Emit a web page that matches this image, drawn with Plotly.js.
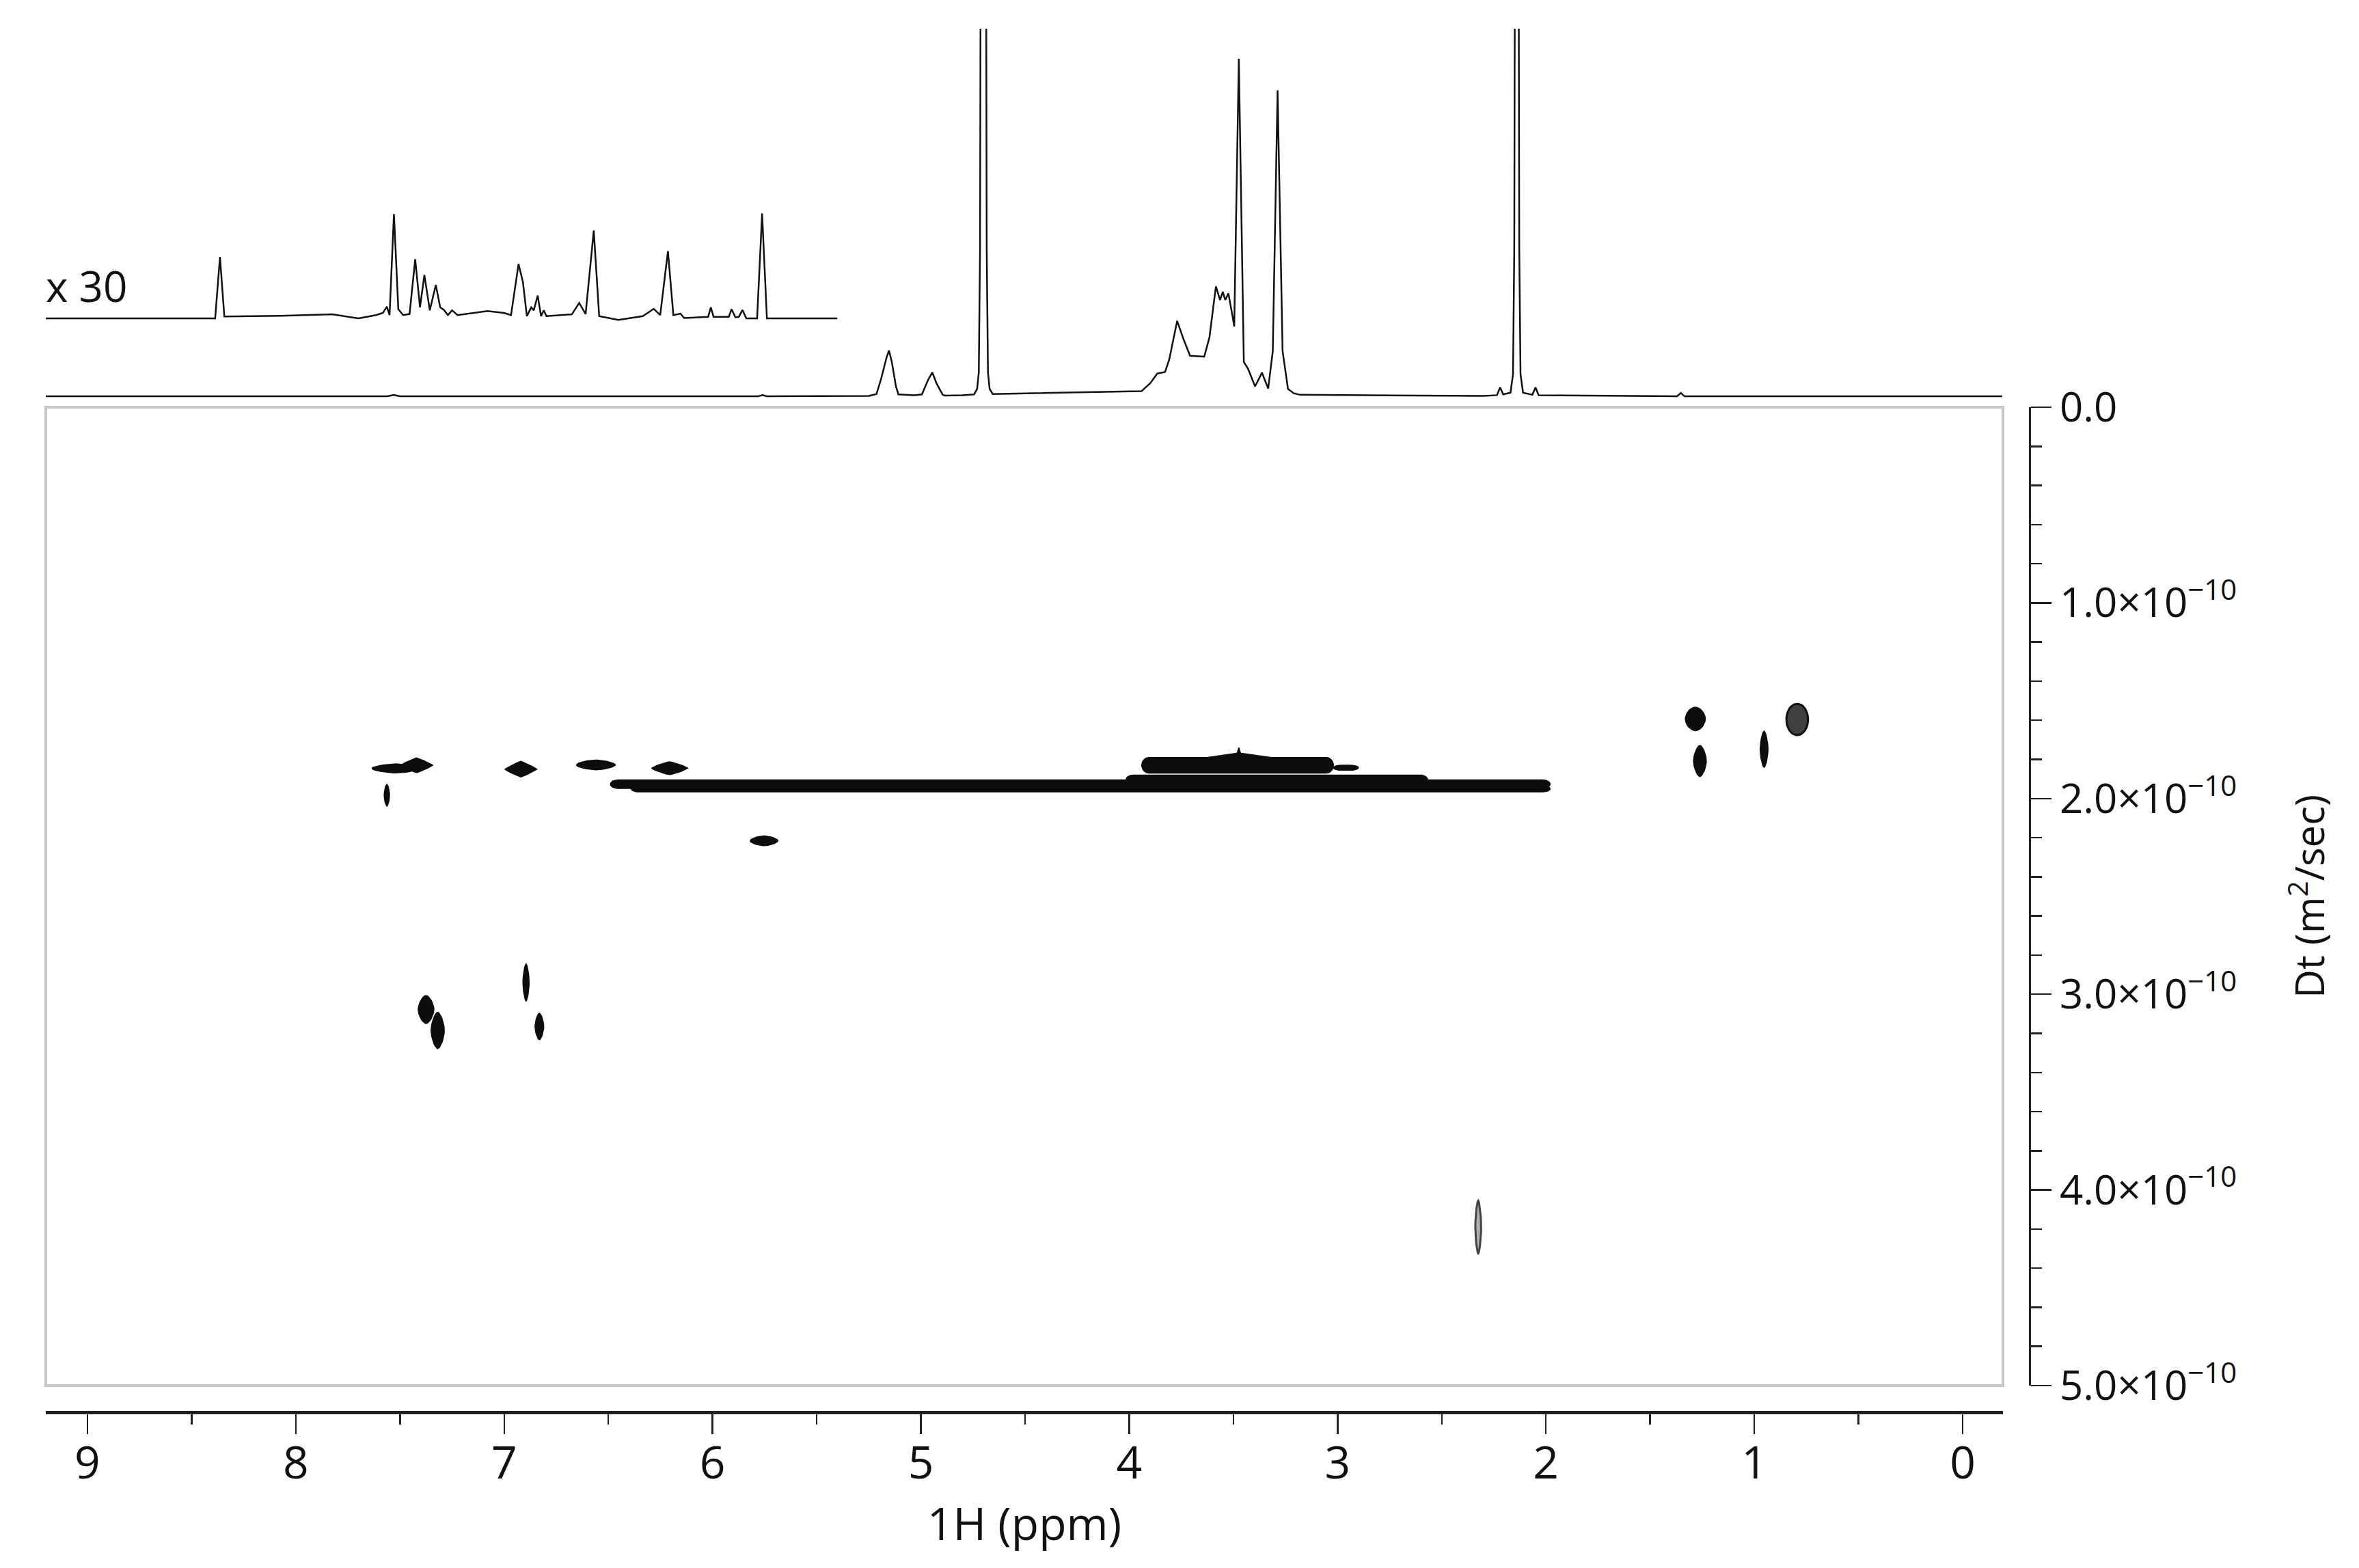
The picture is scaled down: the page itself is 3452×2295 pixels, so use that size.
<!DOCTYPE html>
<html>
<head>
<meta charset="utf-8">
<script src="https://cdn.plot.ly/plotly-3.0.1.min.js"></script>
<style>
  html, body { margin: 0; padding: 0; background: #ffffff; }
  #chart { width: 3452px; height: 2295px; }
</style>
</head>
<body>
<div id="chart"></div>
<script>
// ---------------- DATA ----------------
// 1D 1H projection (chemical shift in ppm, relative intensity; >100 is off scale)
const specPpm = [9.20, 7.56, 7.53, 7.50, 5.78, 5.76, 5.74, 5.25, 5.213, 5.19, 5.165, 5.153, 5.14, 5.12, 5.108,
  5.03, 4.995, 4.965, 4.945, 4.925, 4.895, 4.882, 4.80, 4.745, 4.73, 4.722, 4.716, 4.712, 4.688, 4.684, 4.678,
  4.67, 4.655, 4.5, 4.2, 3.941, 3.90, 3.865, 3.828, 3.808, 3.770, 3.740, 3.708, 3.64, 3.615, 3.584, 3.564,
  3.551, 3.539, 3.524, 3.505, 3.496, 3.474, 3.45, 3.43, 3.396, 3.363, 3.333, 3.311, 3.288, 3.264, 3.238,
  3.21, 3.18, 2.30, 2.235, 2.22, 2.205, 2.17, 2.158, 2.152, 2.148, 2.132, 2.128, 2.122, 2.11, 2.065, 2.05,
  2.035, 1.37, 1.353, 1.335, -0.19];
const specInt = [0, 0, 0.35, 0, 0, 0.3, 0, 0.1, 0.6, 4.9, 10.5, 12.45, 9.5, 2.8, 0.5,
  0.3, 0.5, 4.5, 6.5, 3.5, 0.4, 0.2, 0.3, 0.5, 2, 6.5, 40, 150, 150, 40, 6.5,
  2, 0.6, 0.8, 1.1, 1.4, 3.5, 6.2, 6.6, 10, 20.5, 15.6, 11, 10.8, 16, 29.9, 26.2,
  28.4, 26.2, 28, 22, 19, 91.8, 9.3, 7.5, 2.7, 6.4, 2.1, 12.3, 83.2, 12.3, 2.0,
  0.8, 0.4, 0.1, 0.3, 2.4, 0.5, 1.0, 6, 40, 150, 150, 40, 6, 1.0, 0.4, 2.4,
  0.3, 0, 0.9, 0, 0];

// x30 expansion of the 9.2 - 5.4 ppm region
const insetPpm = [9.205, 8.387, 8.364, 8.343, 8.073, 7.825, 7.699, 7.616, 7.582, 7.563, 7.55, 7.529, 7.508,
  7.485, 7.454, 7.427, 7.404, 7.383, 7.357, 7.328, 7.307, 7.289, 7.27, 7.25, 7.224, 7.08, 7.001, 6.967,
  6.931, 6.910, 6.891, 6.870, 6.858, 6.839, 6.823, 6.81, 6.797, 6.675, 6.64, 6.609, 6.570, 6.544, 6.452,
  6.335, 6.282, 6.251, 6.214, 6.188, 6.154, 6.136, 6.021, 6.008, 5.995, 5.922, 5.909, 5.890, 5.874, 5.856,
  5.838, 5.786, 5.762, 5.739, 5.401];
const insetInt = [0, 0, 16.7, 0.5, 0.7, 1.1, 0, 0.9, 1.5, 3.2, 0.9, 28.4, 2.5,
  0.9, 1.2, 16.1, 3.0, 11.8, 2.2, 9.1, 3.0, 2.3, 0.9, 2.2, 0.9, 2.0, 1.5, 0.9,
  14.8, 9.9, 0.6, 3.0, 2.2, 6.2, 0.6, 2.2, 0.6, 1.1, 4.2, 1.2, 23.9, 0.6, -0.4,
  0.6, 2.6, 0.9, 18.3, 0.9, 1.3, 0.1, 0.4, 3.0, 0.4, 0.4, 2.5, 0.3, 0.4, 2.3,
  0, 0, 28.5, 0, 0];

// DOSY cross peaks: centre (ppm, D in 1e-10 m2/s) and half extents
const spotPpm   = [7.52, 7.42, 7.563, 6.92, 6.56, 6.206, 5.753, 7.375, 7.319, 6.895, 6.831, 1.283, 1.261, 0.953, 3.47, 3.474];
const spotD     = [1.846, 1.83, 1.983, 1.85, 1.828, 1.845, 2.216, 3.078, 3.185, 2.94, 3.165, 1.593, 1.808, 1.748, 1.80, 1.78];
const spotHalfPpm = [0.115, 0.077, 0.013, 0.077, 0.094, 0.087, 0.067, 0.038, 0.032, 0.015, 0.021, 0.048, 0.031, 0.019, 0.22, 0.012];
const spotHalfD = [0.023, 0.038, 0.056, 0.04, 0.025, 0.033, 0.025, 0.072, 0.093, 0.095, 0.068, 0.06, 0.08, 0.093, 0.034, 0.04];

// weaker cross peaks
const weakPpm = [0.794];
const weakD = [1.596];
const weakHalfPpm = [0.052];
const weakHalfD = [0.08];
const faintPpm = [2.325];
const faintD = [4.19];
const faintHalfPpm = [0.014];
const faintHalfD = [0.135];

// streaked (horizontal) signals: ppm span and D span
const barPpmLeft  = [6.49, 6.39, 4.015, 3.94, 3.02];
const barPpmRight = [1.98, 1.98, 2.568, 3.02, 2.90];
const barDTop     = [1.905, 1.935, 1.88, 1.79, 1.83];
const barDBottom  = [1.948, 1.966, 1.927, 1.87, 1.855];

// axis ticks
const dTickVals = [0, 1, 2, 3, 4, 5];
const dTickText = ['0.0', '1.0×10<sup>−10</sup>', '2.0×10<sup>−10</sup>', '3.0×10<sup>−10</sup>', '4.0×10<sup>−10</sup>', '5.0×10<sup>−10</sup>'];

// ---------------- STYLE (shape exponents for cross peaks) ----------------
const spotRoundness = [1.6, 1.1, 1.6, 1.1, 1.6, 1.2, 1.6, 1.6, 1.6, 1.6, 1.6, 1.8, 1.6, 1.6, 1.0, 1.0];

// ---------------- GEOMETRY HELPERS ----------------
function blob(cx, cy, ax, ay, p, xs, ys) {
  const n = 48;
  for (let i = 0; i <= n; i++) {
    const t = 2 * Math.PI * i / n;
    const c = Math.cos(t), s = Math.sin(t);
    xs.push(cx + ax * Math.sign(c) * Math.pow(Math.abs(c), 2 / p));
    ys.push(cy + ay * Math.sign(s) * Math.pow(Math.abs(s), 2 / p));
  }
  xs.push(null); ys.push(null);
}
function stadium(xl, xr, yt, yb, xs, ys) {
  const rx = 0.035, yc = (yt + yb) / 2, ry = (yb - yt) / 2;
  const n = 16;
  const cl = xl - rx, cr = xr + rx;
  for (let i = 0; i <= n; i++) {
    const t = -Math.PI / 2 + Math.PI * i / n;
    xs.push(cl + rx * Math.cos(t)); ys.push(yc + ry * Math.sin(t));
  }
  for (let i = 0; i <= n; i++) {
    const t = Math.PI / 2 + Math.PI * i / n;
    xs.push(cr + rx * Math.cos(t)); ys.push(yc + ry * Math.sin(t));
  }
  xs.push(xs[xs.length - 2 * n - 2]); ys.push(ys[ys.length - 2 * n - 2]);
  xs.push(null); ys.push(null);
}

const darkX = [], darkY = [];
for (let i = 0; i < barPpmLeft.length; i++) stadium(barPpmLeft[i], barPpmRight[i], barDTop[i], barDBottom[i], darkX, darkY);
for (let i = 0; i < spotPpm.length; i++) blob(spotPpm[i], spotD[i], spotHalfPpm[i], spotHalfD[i], spotRoundness[i], darkX, darkY);
const weakX = [], weakY = [];
for (let i = 0; i < weakPpm.length; i++) blob(weakPpm[i], weakD[i], weakHalfPpm[i], weakHalfD[i], 2, weakX, weakY);
const faintX = [], faintY = [];
for (let i = 0; i < faintPpm.length; i++) blob(faintPpm[i], faintD[i], faintHalfPpm[i], faintHalfD[i], 1.6, faintX, faintY);

// ---------------- TRACES ----------------
const W = 3452, H = 2295;
const traces = [
  { type: 'scatter', mode: 'lines', x: darkX, y: darkY, xaxis: 'x', yaxis: 'y',
    fill: 'toself', fillcolor: '#0d0d0d', line: { color: '#0d0d0d', width: 1.5 }, hoverinfo: 'skip', showlegend: false },
  { type: 'scatter', mode: 'lines', x: weakX, y: weakY, xaxis: 'x', yaxis: 'y',
    fill: 'toself', fillcolor: '#3f3f3f', line: { color: '#111', width: 3 }, hoverinfo: 'skip', showlegend: false },
  { type: 'scatter', mode: 'lines', x: faintX, y: faintY, xaxis: 'x', yaxis: 'y',
    fill: 'toself', fillcolor: '#b0b0b0', line: { color: '#444', width: 3 }, hoverinfo: 'skip', showlegend: false },
  { type: 'scatter', mode: 'lines', x: specPpm, y: specInt, xaxis: 'x2', yaxis: 'y2',
    line: { color: '#111', width: 2.5 }, hoverinfo: 'skip', showlegend: false },
  { type: 'scatter', mode: 'lines', x: insetPpm, y: insetInt, xaxis: 'x2', yaxis: 'y3',
    line: { color: '#111', width: 2.5 }, hoverinfo: 'skip', showlegend: false }
];

const xDom = [67 / W, 2931 / W];
const xRange = [9.2, -0.1935];
const fam = 'Open Sans, Noto Sans, sans-serif';
const labelFont = { family: fam, size: 66, color: '#111' };

const layout = {
  width: W, height: H,
  margin: { l: 0, r: 0, t: 0, b: 0, pad: 0 },
  paper_bgcolor: '#ffffff', plot_bgcolor: 'rgba(0,0,0,0)',
  showlegend: false,
  font: labelFont,
  xaxis: {
    domain: xDom, range: xRange, anchor: 'free', position: 1 - 2067 / H,
    showline: true, linecolor: '#222', linewidth: 5,
    ticks: 'outside', ticklen: 29, tickwidth: 2.5, tickcolor: '#222',
    tick0: 0, dtick: 1,
    minor: { ticks: 'outside', dtick: 0.5, ticklen: 15, tickwidth: 2.5, tickcolor: '#222', showgrid: false },
    showgrid: false, zeroline: false,
    tickfont: labelFont, ticklabelstandoff: -14,
    title: { text: '1H (ppm)', font: labelFont, standoff: 15 }
  },
  yaxis: {
    domain: [1 - 2028 / H, 1 - 596 / H], range: [5, 0],
    side: 'right', anchor: 'free', position: 2970 / W,
    showline: true, linecolor: '#222', linewidth: 3,
    ticks: 'outside', ticklen: 30, tickwidth: 2.5, tickcolor: '#222',
    tickmode: 'array', tickvals: dTickVals, ticktext: dTickText,
    minor: { ticks: 'outside', dtick: 0.2, tick0: 0, ticklen: 16, tickwidth: 2.5, tickcolor: '#222', showgrid: false },
    showgrid: false, zeroline: false,
    tickfont: { family: fam, size: 60, color: '#111' },
    title: { text: 'Dt (m<sup>2</sup>/sec)', font: { family: fam, size: 58, color: '#111' }, standoff: 88 }
  },
  xaxis2: { domain: xDom, range: xRange, anchor: 'y2', visible: false, showgrid: false, zeroline: false },
  yaxis2: { domain: [1 - 600 / H, 1 - 42 / H], range: [-3.717, 100], anchor: 'x2', visible: false, showgrid: false, zeroline: false },
  yaxis3: { overlaying: 'y2', range: [-24.9, 78.8], anchor: 'x2', visible: false, showgrid: false, zeroline: false },
  shapes: [
    { type: 'rect', xref: 'x domain', yref: 'y domain', x0: 0, x1: 1, y0: 0, y1: 1,
      line: { color: '#c6c6c6', width: 4 }, fillcolor: 'rgba(0,0,0,0)', layer: 'below' }
  ],
  annotations: [
    { xref: 'paper', yref: 'paper', x: 65 / W, y: 1 - 418 / H, xanchor: 'left', yanchor: 'middle',
      text: 'x 30', showarrow: false, font: { family: fam, size: 62, color: '#111' } }
  ]
};

Plotly.newPlot('chart', traces, layout, { staticPlot: true, displayModeBar: false });
</script>
</body>
</html>
